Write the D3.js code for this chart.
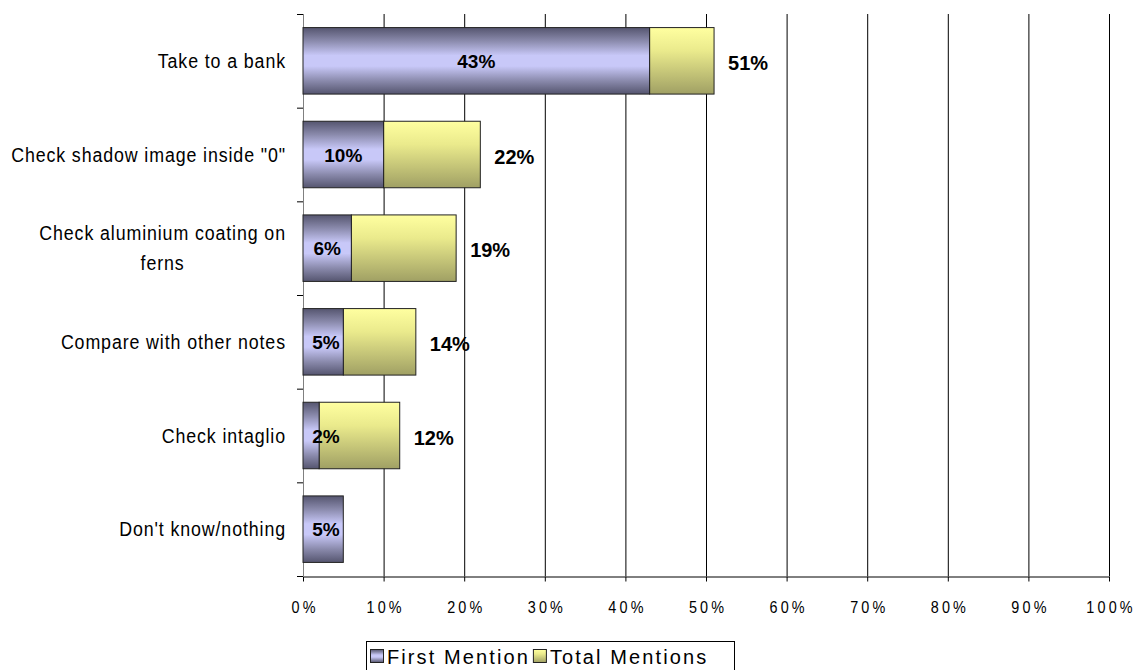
<!DOCTYPE html>
<html><head><meta charset="utf-8">
<script src="https://cdn.jsdelivr.net/npm/d3@7"></script>
<style>body{margin:0;background:#fff}svg{display:block}</style>
</head><body>
<svg id="c" width="1135" height="670"></svg>
<script>
const categories = ["Take to a bank", "Check shadow image inside \"0\"", "Check aluminium coating on ferns", "Compare with other notes", "Check intaglio", "Don't know/nothing"];
const firstMention = [43, 10, 6, 5, 2, 5];
const totalMentions = [51, 22, 19, 14, 12, null];
const xTicks = [0,10,20,30,40,50,60,70,80,90,100];
const seriesNames = ["First Mention", "Total Mentions"];

const FONT = "'Liberation Sans', Arial, sans-serif";
const svg = d3.select("#c");
const defs = svg.append("defs");
const gp = defs.append("linearGradient").attr("id","gPurple").attr("x1",0).attr("y1",0).attr("x2",0).attr("y2",1);
[[0,"#55556f"],[0.2,"#8a8aac"],[0.42,"#c8c8f8"],[0.58,"#c8c8f8"],[0.8,"#8a8aac"],[1,"#55556f"]].forEach(s=>gp.append("stop").attr("offset",s[0]).attr("stop-color",s[1]));
const gy = defs.append("linearGradient").attr("id","gYellow").attr("x1",0).attr("y1",0).attr("x2",0).attr("y2",1);
[[0,"#ffffa0"],[0.35,"#eaea8c"],[1,"#a0a064"]].forEach(s=>gy.append("stop").attr("offset",s[0]).attr("stop-color",s[1]));

const x = d3.scaleLinear().domain([0,100]).range([303,1109]);
const y = d3.scaleBand().domain(categories).range([14,576]).paddingInner(0.29).paddingOuter(0.145);
const step = y.step();

// gridlines
svg.append("g").selectAll("line").data(xTicks.filter(d=>d>0)).join("line")
  .attr("x1",d=>x(d)+0.5).attr("x2",d=>x(d)+0.5).attr("y1",14).attr("y2",576)
  .attr("stroke","#000").attr("stroke-width",1);

// x axis
const TSX = 0.9, TLS = 3.5;
const xa = svg.append("g").attr("transform","translate(0,576.5)")
  .call(d3.axisBottom(x).tickValues(xTicks).tickFormat(d=>d+"%").tickSize(5).tickSizeOuter(0));
xa.select(".domain").attr("stroke","#000");
xa.selectAll(".tick line").attr("stroke","#000");
xa.selectAll(".tick text").attr("y",null).attr("dy",null)
  .attr("font-family",FONT).attr("font-size","16px").attr("letter-spacing",TLS+"px").attr("fill","#000")
  .attr("transform",`translate(${TLS*TSX/2},36.5) scale(${TSX},1)`);

// y axis line and ticks at band boundaries
svg.append("line").attr("x1",303.5).attr("x2",303.5).attr("y1",14).attr("y2",577).attr("stroke","#808080");
svg.append("g").selectAll("line").data(d3.range(categories.length+1)).join("line")
  .attr("x1",297).attr("x2",303).attr("y1",d=>14+d*step+0.5).attr("y2",d=>14+d*step+0.5).attr("stroke","#000");

const data = categories.map((c,i)=>({c, f:firstMention[i], t:totalMentions[i]}));

// total segments
svg.append("g").selectAll("rect").data(data.filter(d=>d.t!=null)).join("rect")
  .attr("x",d=>x(d.f)).attr("width",d=>x(d.t)-x(d.f))
  .attr("y",d=>y(d.c)).attr("height",y.bandwidth())
  .attr("fill","url(#gYellow)").attr("stroke","#222").attr("stroke-width",1);
// first segments
svg.append("g").selectAll("rect").data(data).join("rect")
  .attr("x",x(0)).attr("width",d=>x(d.f)-x(0))
  .attr("y",d=>y(d.c)).attr("height",y.bandwidth())
  .attr("fill","url(#gPurple)").attr("stroke","#222").attr("stroke-width",1);

// first labels
svg.append("g").selectAll("text").data(data).join("text")
  .attr("x",d=>Math.max((x(0)+x(d.f))/2, x(0)+23))
  .attr("y",d=>y(d.c)+y.bandwidth()/2+7)
  .attr("text-anchor","middle").attr("font-family",FONT).attr("font-weight","bold")
  .attr("font-size","19px").attr("fill","#000")
  .text(d=>d.f+"%");
// total labels
svg.append("g").selectAll("text").data(data.filter(d=>d.t!=null)).join("text")
  .attr("x",d=>x(d.t)+14)
  .attr("y",d=>y(d.c)+y.bandwidth()/2+9)
  .attr("text-anchor","start").attr("font-family",FONT).attr("font-weight","bold")
  .attr("font-size","20px").attr("fill","#000")
  .text(d=>d.t+"%");

// category labels with wrapping (narrowed text)
const SX = 0.89;
const catG = svg.append("g").attr("font-family",FONT)
  .attr("font-size","20px").attr("letter-spacing","1px").attr("fill","#000");
const maxW = 282;
const measure = s => { const t = catG.append("text").text(s); const w = t.node().getComputedTextLength()*SX; t.remove(); return w; };
data.forEach(d=>{
  const words = d.c.split(" ");
  const lines = [];
  let cur = "";
  words.forEach(w=>{
    const test = cur ? cur+" "+w : w;
    if (measure(test) > maxW && cur) { lines.push(cur); cur = w; } else cur = test;
  });
  lines.push(cur);
  const cy = y(d.c)+y.bandwidth()/2;
  const lh = 30;
  const widest = d3.max(lines, measure);
  const cx = 286 - widest/2;
  lines.forEach((l,i)=>{
    catG.append("text").attr("text-anchor","middle")
      .attr("transform",`translate(${cx},${cy + 7 + (i - (lines.length-1)/2)*lh}) scale(${SX},1)`)
      .text(l);
  });
});

// legend
const lg = svg.append("g");
lg.append("rect").attr("x",366.5).attr("y",641.5).attr("width",368).attr("height",30).attr("fill","#fff").attr("stroke","#000");
const fills = ["url(#gPurple)","url(#gYellow)"];
let lx = 370;
seriesNames.forEach((n,i)=>{
  lg.append("rect").attr("x",lx+0.5).attr("y",649.5).attr("width",13).attr("height",13).attr("fill",fills[i]).attr("stroke","#222");
  const tx = lg.append("text").attr("x",lx+17).attr("y",664).attr("font-family",FONT)
    .attr("font-size","20px").attr("letter-spacing","2.1px").attr("fill","#000").text(n);
  lx += 17 + tx.node().getComputedTextLength() + 3;
});
</script>
</body></html>
